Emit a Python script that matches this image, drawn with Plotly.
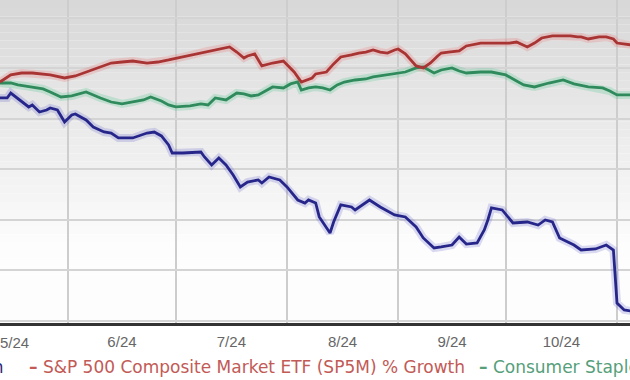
import plotly.graph_objects as go

# ---------------- data ----------------
STOCK_NAME = "Stock % Growth"
SPX_NAME = "S&P 500 Composite Market ETF (SP5M) % Growth"
STAPLES_NAME = "Consumer Staples Sector % Growth"
FIRST_MONTH_LABEL = "5/24"
FIRST_MONTH_MID = "2024-05-17"

spx_dates = ["2024-05-13", "2024-05-16", "2024-05-19", "2024-05-22", "2024-05-27", "2024-05-31",
             "2024-06-03", "2024-06-06", "2024-06-10", "2024-06-13", "2024-06-16", "2024-06-19",
             "2024-06-23", "2024-06-26", "2024-06-29", "2024-07-03", "2024-07-06", "2024-07-10",
             "2024-07-13", "2024-07-16", "2024-07-18", "2024-07-20", "2024-07-21", "2024-07-23",
             "2024-07-25", "2024-07-28", "2024-07-31", "2024-08-03", "2024-08-05", "2024-08-08",
             "2024-08-09", "2024-08-12", "2024-08-14", "2024-08-16", "2024-08-19", "2024-08-21",
             "2024-08-23", "2024-08-25", "2024-08-27", "2024-08-29", "2024-08-31", "2024-09-01",
             "2024-09-03", "2024-09-05", "2024-09-06", "2024-09-08", "2024-09-10", "2024-09-12",
             "2024-09-13", "2024-09-15", "2024-09-18", "2024-09-20", "2024-09-24", "2024-09-27",
             "2024-09-30", "2024-10-02", "2024-10-04", "2024-10-06", "2024-10-07", "2024-10-09",
             "2024-10-11", "2024-10-14", "2024-10-17", "2024-10-19", "2024-10-21", "2024-10-22",
             "2024-10-24", "2024-10-27", "2024-10-29", "2024-10-31", "2024-11-01", "2024-11-05"]
spx_vals = [3.66, 4.36, 4.55, 4.55, 4.36, 4.06,
            4.26, 4.65, 5.15, 5.54, 5.64, 5.74,
            5.54, 5.64, 5.84, 6.14, 6.44, 6.73,
            6.93, 7.13, 6.63, 6.04, 6.24, 6.44,
            5.25, 5.54, 5.74, 4.65, 3.66, 4.06,
            4.46, 4.65, 5.45, 6.14, 6.34, 6.53,
            6.63, 6.83, 6.63, 6.53, 6.83, 6.93,
            6.44, 5.64, 5.25, 5.05, 5.54, 6.24,
            6.53, 6.63, 6.73, 7.23, 7.52, 7.52,
            7.52, 7.52, 7.62, 7.33, 7.13, 7.52,
            8.02, 8.22, 8.22, 8.22, 8.12, 8.12,
            7.92, 8.12, 8.12, 7.92, 7.52, 7.33]

staples_dates = ["2024-05-13", "2024-05-16", "2024-05-18", "2024-05-20", "2024-05-22", "2024-05-25",
                 "2024-05-27", "2024-05-30", "2024-06-02", "2024-06-03", "2024-06-06", "2024-06-10",
                 "2024-06-13", "2024-06-16", "2024-06-19", "2024-06-22", "2024-06-24", "2024-06-27",
                 "2024-06-29", "2024-07-01", "2024-07-05", "2024-07-08", "2024-07-10", "2024-07-12",
                 "2024-07-15", "2024-07-18", "2024-07-20", "2024-07-22", "2024-07-24", "2024-07-26",
                 "2024-07-28", "2024-07-31", "2024-08-02", "2024-08-04", "2024-08-05", "2024-08-07",
                 "2024-08-09", "2024-08-11", "2024-08-13", "2024-08-15", "2024-08-17", "2024-08-20",
                 "2024-08-23", "2024-08-25", "2024-08-27", "2024-08-31", "2024-09-03", "2024-09-06",
                 "2024-09-08", "2024-09-11", "2024-09-13", "2024-09-16", "2024-09-18", "2024-09-20",
                 "2024-09-24", "2024-09-27", "2024-10-01", "2024-10-04", "2024-10-06", "2024-10-09",
                 "2024-10-13", "2024-10-17", "2024-10-20", "2024-10-24", "2024-10-28", "2024-10-30",
                 "2024-11-01", "2024-11-05"]
staples_vals = [3.56, 3.56, 3.37, 3.27, 3.17, 2.97,
                2.67, 2.18, 2.28, 2.38, 2.67, 2.08,
                1.68, 1.49, 1.68, 1.88, 2.18, 1.78,
                1.39, 1.19, 1.29, 1.49, 1.39, 2.08,
                1.88, 2.57, 2.48, 2.28, 2.38, 2.77,
                3.17, 3.07, 3.47, 3.66, 2.87, 3.07,
                3.17, 3.07, 2.87, 3.37, 3.66, 3.86,
                3.96, 4.16, 4.26, 4.46, 4.65, 5.05,
                5.15, 4.55, 4.85, 5.05, 4.75, 4.55,
                4.65, 4.65, 4.36, 3.76, 3.37, 3.17,
                3.56, 3.86, 3.47, 3.17, 3.07, 2.77,
                2.38, 2.38]

stock_dates = ["2024-05-13", "2024-05-15", "2024-05-16", "2024-05-17", "2024-05-19", "2024-05-21",
               "2024-05-22", "2024-05-24", "2024-05-26", "2024-05-27", "2024-05-29", "2024-05-31",
               "2024-06-02", "2024-06-03", "2024-06-06", "2024-06-08", "2024-06-11", "2024-06-13",
               "2024-06-15", "2024-06-19", "2024-06-23", "2024-06-25", "2024-06-27", "2024-06-29",
               "2024-06-30", "2024-07-03", "2024-07-08", "2024-07-09", "2024-07-11", "2024-07-13",
               "2024-07-15", "2024-07-17", "2024-07-19", "2024-07-21", "2024-07-24", "2024-07-25",
               "2024-07-27", "2024-07-30", "2024-08-01", "2024-08-04", "2024-08-06", "2024-08-07",
               "2024-08-09", "2024-08-10", "2024-08-13", "2024-08-14", "2024-08-16", "2024-08-19",
               "2024-08-20", "2024-08-24", "2024-08-27", "2024-08-31", "2024-09-03", "2024-09-06",
               "2024-09-08", "2024-09-11", "2024-09-13", "2024-09-16", "2024-09-18", "2024-09-20",
               "2024-09-23", "2024-09-25", "2024-09-26", "2024-09-27", "2024-09-30", "2024-10-03",
               "2024-10-07", "2024-10-10", "2024-10-12", "2024-10-14", "2024-10-16", "2024-10-20",
               "2024-10-22", "2024-10-26", "2024-10-29", "2024-10-31", "2024-11-01", "2024-11-03",
               "2024-11-05"]
stock_vals = [2.08, 2.08, 2.57, 2.28, 1.68, 1.19,
              1.39, 0.69, 0.89, 1.09, 0.89, -0.30,
              0.40, 0.50, -0.10, -0.79, -1.29, -1.39,
              -1.88, -1.88, -1.39, -1.29, -1.68, -2.57,
              -3.37, -3.37, -3.27, -3.76, -4.55, -3.86,
              -4.55, -5.54, -6.73, -6.24, -6.04, -6.34,
              -5.74, -6.04, -6.73, -8.02, -8.32, -8.02,
              -8.32, -9.70, -11.29, -10.20, -8.51, -8.71,
              -9.01, -8.02, -8.71, -9.50, -9.70, -10.69,
              -11.78, -12.77, -12.67, -12.48, -11.68, -12.38,
              -12.28, -10.99, -10.00, -8.81, -9.01, -10.30,
              -10.20, -10.50, -10.00, -10.20, -11.78, -12.48,
              -12.97, -12.87, -12.48, -12.97, -18.22, -18.91,
              -19.01]

# ---------------- styling ----------------
W, H = 630, 380
M_B = 57
PLOT_H = H - M_B
TICK_FONT = dict(size=15, color="#666666", family="Liberation Sans, Arial")

series = [
    (stock_dates, stock_vals, "#26268a", "rgba(90,90,200,0.22)"),
    (staples_dates, staples_vals, "#2f8a5c", "rgba(80,200,140,0.25)"),
    (spx_dates, spx_vals, "#a83434", "rgba(235,110,110,0.25)"),
]

fig = go.Figure()
for xs, ys, col, glow in series:
    fig.add_trace(go.Scatter(x=xs, y=ys, mode="lines", line=dict(color=glow, width=8),
                             hoverinfo="skip", showlegend=False))
for xs, ys, col, glow in series:
    fig.add_trace(go.Scatter(x=xs, y=ys, mode="lines", line=dict(color=col, width=2.8),
                             showlegend=False))

# gray-to-white gradient plot background
shapes = []
n = 40
for i in range(n):
    t0 = i / n
    t1 = (i + 1) / n
    f = min(1.0, (t0 * PLOT_H) / 240.0)
    c = int(216 + (253 - 216) * f)
    shapes.append(dict(type="rect", xref="paper", yref="paper", x0=0, x1=1,
                       y0=1 - t1, y1=1 - t0, layer="below",
                       line=dict(width=0), fillcolor=f"rgb({c},{c},{c})"))

def px_x(p):
    return p / W

def px_y(p):
    return (PLOT_H - p) / PLOT_H

leg_y = px_y(367)
annotations = [
    # first (partly cut) month label, drawn where the period label would sit
    dict(text=FIRST_MONTH_LABEL, x=FIRST_MONTH_MID, y=px_y(342), xref="x", yref="paper",
         xanchor="center", yanchor="middle", showarrow=False, font=TICK_FONT),
    dict(text=STOCK_NAME, x=px_x(6), y=leg_y, xref="paper", yref="paper",
         xanchor="right", yanchor="middle", showarrow=False,
         font=dict(color="#2a2a7a", size=17, family="DejaVu Sans, Arial")),
    dict(text="<b>–</b> " + SPX_NAME, x=px_x(27), y=leg_y, xref="paper", yref="paper",
         xanchor="left", yanchor="middle", showarrow=False,
         font=dict(color="#c25a56", size=17, family="DejaVu Sans, Arial")),
    dict(text="<b>–</b> " + STAPLES_NAME, x=px_x(477), y=leg_y, xref="paper", yref="paper",
         xanchor="left", yanchor="middle", showarrow=False,
         font=dict(color="#55a07a", size=17, family="DejaVu Sans, Arial")),
]

fig.update_layout(
    width=W, height=H,
    margin=dict(l=0, r=0, t=0, b=M_B, pad=0),
    paper_bgcolor="white", plot_bgcolor="white",
    shapes=shapes, annotations=annotations,
    showlegend=False,
    xaxis=dict(type="date", range=["2024-05-13", "2024-11-04 15:00"],
               dtick="M1", tick0="2024-05-01", ticklabelmode="period", tickformat="%-m/%y",
               showgrid=True, gridcolor="#cdcdcd", gridwidth=1.5,
               showline=True, linecolor="#333333", linewidth=3,
               ticks="", ticklabelstandoff=3, tickfont=TICK_FONT,
               fixedrange=True),
    yaxis=dict(range=[-20.2, 11.78], dtick=5, tick0=0, showticklabels=False,
               showgrid=True, gridcolor="#d4d4d4", gridwidth=1.5, zeroline=False,
               showline=False, ticks="", fixedrange=True),
)

fig.write_html("out.html", config={"displayModeBar": False},
               post_script="document.body.style.margin='0';document.body.style.overflow='hidden';")
